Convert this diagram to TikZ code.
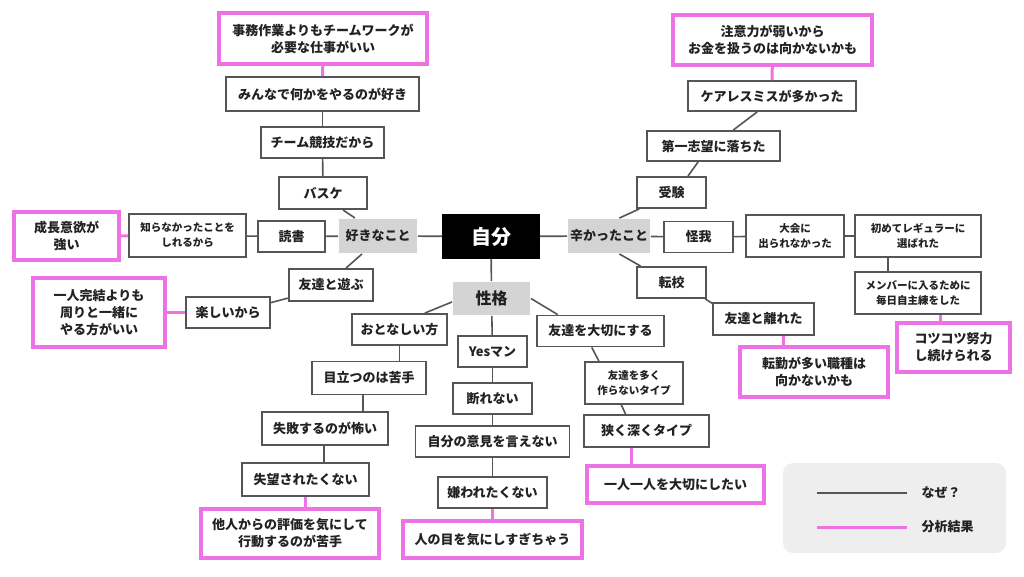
\documentclass[tikz,border=0pt]{standalone}
\usepackage{fontspec}
\setmainfont{Noto Sans CJK JP}
\usetikzlibrary{calc}
\definecolor{MapLine}{HTML}{555555}
\definecolor{MapPink}{HTML}{EE72E6}
\definecolor{MapGray}{HTML}{D4D4D4}
\definecolor{MapLegend}{HTML}{EEEEEE}
\definecolor{MapText}{HTML}{222222}
\newcommand{\fsz}[2]{\fontsize{#1}{#2}\selectfont}

\begin{document}
\begin{tikzpicture}[x=1pt,y=-1pt,
    box/.style={draw=MapLine,line width=1.9pt,fill=white,inner sep=0pt,align=center,text=MapText,font=\fsz{13}{17}\bfseries},
    small/.style={font=\fsz{10.5}{15}\bfseries},
    hit/.style={box,draw=MapPink,line width=3.2pt},
    topic/.style={box,draw=none,fill=MapGray},
    sz/.style 2 args={minimum width=#1,minimum height=#2},
    why/.style={draw=MapLine,line width=1.6pt},
    res/.style={draw=MapPink,line width=3pt}
  ]
    \useasboundingbox (0,0) rectangle (1024,576);
    % centre
    \node[box,sz={96}{43},fill=black,draw=black,text=white,font=\fsz{20}{24}\bfseries] (jibun) at (491,236.5) {自分};
    \node[topic,sz={78}{34}] (suki) at (378,236) {好きなこと};
    \node[topic,sz={82}{34}] (tsurai) at (609,236) {辛かったこと};
    \node[topic,sz={77}{33},font=\fsz{16}{20}\bfseries] (seikaku) at (491.5,298.5) {性格};
    \draw[why] (jibun) -- (suki);
    \draw[why] (jibun) -- (tsurai);
    \draw[why] (jibun) -- (seikaku);

    % likes
    \node[box,sz={88}{32}] (basuke) at (323,193) {バスケ};
    \node[box,sz={123}{31}] (team) at (322.5,142.5) {チーム競技だから};
    \node[box,sz={193}{34}] (minna) at (322.5,94) {みんなで何かをやるのが好き};
    \node[hit,sz={208}{51}] (jimu) at (323,38.5) {事務作業よりもチームワークが\\必要な仕事がいい};
    \node[box,sz={67}{31}] (dokusho) at (291.5,236.5) {読書};
    \node[box,small,sz={117}{43}] (shiranai) at (187.5,235.5) {知らなかったことを\\しれるから};
    \node[hit,sz={105}{48}] (seicho) at (66.5,236) {成長意欲が\\強い};
    \node[box,sz={84}{32}] (asobu) at (331,285) {友達と遊ぶ};
    \node[box,sz={84}{31}] (tanoshii) at (228,312.5) {楽しいから};
    \node[hit,sz={132}{69}] (hitori) at (99,312.5) {一人完結よりも\\周りと一緒に\\やる方がいい};
    \draw[why] ([xshift=20]basuke.south) -- ([xshift=-23]suki.north);
    \draw[why] (basuke) -- (team);
    \draw[why] (team) -- (minna);
    \draw[res] (minna) -- (jimu);
    \draw[why] (suki) -- (dokusho);
    \draw[why] (dokusho) -- (shiranai);
    \draw[res] (shiranai) -- (seicho);
    \draw[why] ([xshift=-16]suki.south) -- ([xshift=15]asobu.north);
    \draw[why] (asobu.197) -- (tanoshii.13);
    \draw[res] (tanoshii) -- (hitori);

    % character
    \node[box,sz={95}{31}] (otona) at (399.5,329.5) {おとなしい方};
    \node[box,sz={114}{33}] (medatsu) at (369,378) {目立つのは苦手};
    \node[box,sz={126}{33}] (shippai) at (325,428.5) {失敗するのが怖い};
    \node[box,sz={127}{33}] (shitsubo) at (305.5,479.5) {失望されたくない};
    \node[hit,sz={178}{49}] (tanin) at (290,533.5) {他人からの評価を気にして\\行動するのが苦手};
    \node[box,sz={69}{31}] (yes) at (492.5,351.5) {Yesマン};
    \node[box,sz={79}{31}] (kotowa) at (492.5,398.5) {断れない};
    \node[box,sz={154}{31}] (iken) at (492.5,441.5) {自分の意見を言えない};
    \node[box,sz={109}{31}] (kiraware) at (492.5,492.5) {嫌われたくない};
    \node[hit,sz={179}{37}] (hitome) at (492.5,539.5) {人の目を気にしすぎちゃう};
    \node[box,sz={127}{31}] (taisetsu) at (600.5,331) {友達を大切にする};
    \node[box,small,sz={98}{42}] (ooku) at (634,383) {友達を多く\\作らないタイプ};
    \node[box,sz={125}{32}] (semaku) at (646.5,431) {狭く深くタイプ};
    \node[hit,sz={177}{37}] (hitorihitori) at (675.5,484.5) {一人一人を大切にしたい};
    \draw[why] (seikaku.185) -- (otona.33);
    \draw[why] (otona.south) -- (otona.south |- medatsu.north);
    \draw[why] ([xshift=-6]medatsu.south) -- ([xshift=-6]medatsu.south |- shippai.north);
    \draw[why] ([xshift=-1]shippai.south) -- ([xshift=-1]shippai.south |- shitsubo.north);
    \draw[res] (shitsubo.south) -- (shitsubo.south |- tanin.north);
    \draw[why] (seikaku) -- (yes);
    \draw[why] (yes) -- (kotowa);
    \draw[why] (kotowa) -- (iken);
    \draw[why] (iken) -- (kiraware);
    \draw[res] (kiraware) -- (hitome);
    \draw[why] (seikaku.east) -- (taisetsu.159);
    \draw[why] (taisetsu.242) -- (ooku.148);
    \draw[why] (ooku.240) -- (semaku.141);
    \draw[res] ([xshift=-15.5]semaku.south) -- ([xshift=-15.5]semaku.south |- hitorihitori.north);

    % hard times
    \node[box,sz={69}{31}] (juken) at (671.5,192.5) {受験};
    \node[box,sz={133}{30}] (daiichi) at (713.5,146) {第一志望に落ちた};
    \node[box,sz={168}{30}] (careless) at (772,96) {ケアレスミスが多かった};
    \node[hit,sz={199}{50}] (chui) at (772.5,40) {注意力が弱いから\\お金を扱うのは向かないかも};
    \node[box,sz={69}{31}] (kega) at (698.5,237) {怪我};
    \node[box,small,sz={98}{42}] (taikai) at (795,236) {大会に\\出られなかった};
    \node[box,small,sz={126}{42}] (hajimete) at (918,236) {初めてレギュラーに\\選ばれた};
    \node[box,small,sz={126}{42}] (member) at (918,293) {メンバーに入るために\\毎日自主練をした};
    \node[hit,sz={113}{49}] (kotsu) at (953.5,347.5) {コツコツ努力\\し続けられる};
    \node[box,sz={69}{31}] (tenko) at (671.5,282.5) {転校};
    \node[box,sz={101}{32}] (hanare) at (763.5,319) {友達と離れた};
    \node[hit,sz={148}{50}] (tenkin) at (814,372) {転勤が多い職種は\\向かないかも};
    \draw[why] (tsurai.60) -- (juken.207);
    \draw[why] (juken.45) -- (daiichi.226);
    \draw[why] (daiichi.39) -- (careless.227);
    \draw[res] (careless) -- (chui);
    \draw[why] (tsurai) -- (kega);
    \draw[why] (kega) -- (taikai);
    \draw[why] (taikai) -- (hajimete);
    \draw[why] ([xshift=-30]hajimete.south) -- ([xshift=-30]hajimete.south |- member.north);
    \draw[res] ([xshift=22]member.south) -- ([xshift=22]member.south |- kotsu.north);
    \draw[why] (tsurai.-60) -- (tenko.152);
    \draw[why] (tenko.-26) -- (hanare.163);
    \draw[res] ([xshift=19.5]hanare.south) -- ([xshift=19.5]hanare.south |- tenkin.north);

    % legend
    \node[fill=MapLegend,rounded corners=10pt,sz={223}{90}] (legend) at (894.5,508) {};
    \coordinate (wa) at (817,493);
    \coordinate (wb) at (907,493);
    \coordinate (ra) at (817,527);
    \coordinate (rb) at (907,527);
    \draw[why] (wa) -- (wb);
    \draw[res] (ra) -- (rb);
    \node[anchor=west,text=MapText,font=\fsz{13}{17}\bfseries] (whytext) at (918,493) {なぜ？};
    \node[anchor=west,text=MapText,font=\fsz{13}{17}\bfseries] (restext) at (918,527) {分析結果};
\end{tikzpicture}
\end{document}
